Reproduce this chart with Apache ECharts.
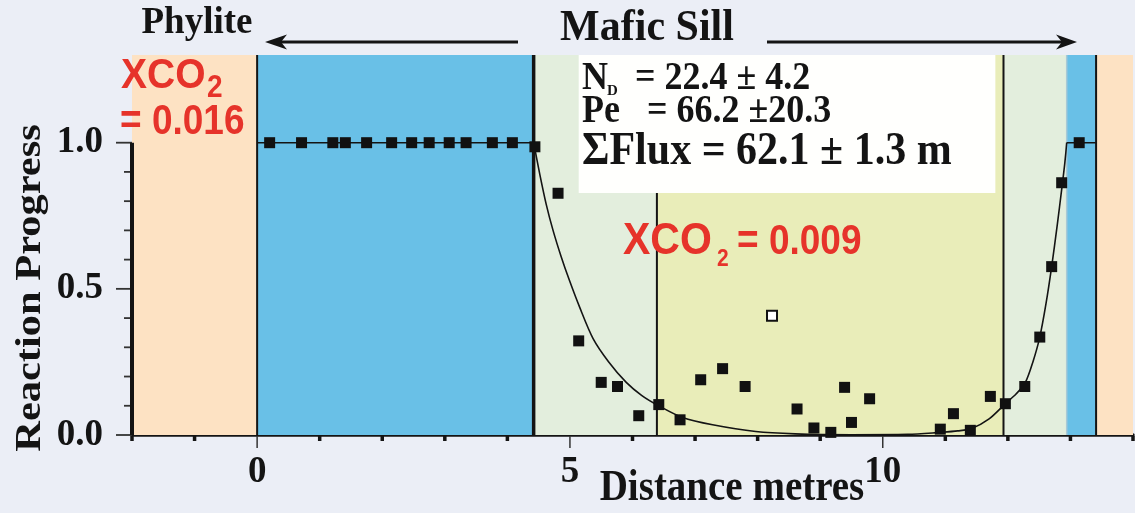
<!DOCTYPE html>
<html>
<head>
<meta charset="utf-8">
<script src="https://cdn.jsdelivr.net/npm/echarts@6/dist/echarts.min.js"></script>
<style>
html,body{margin:0;padding:0;background:#EBEEF6;}
#c{width:1135px;height:513px;}
</style>
</head>
<body>
<div id="c"></div>
<script>
// ---- data ----
const xTickLabels = [0, 5, 10];
const xMinorTicks = [-2, -1, 1, 2, 3, 4, 6, 7, 8, 9, 11, 12, 13, 14];
const yTickLabels = [0, 0.5, 1.0];
const yMinorTicks = [0.1, 0.2, 0.3, 0.4, 0.6, 0.7, 0.8, 0.9];

const zoneEdges = [-2, 0, 4.42, 6.39, 11.93, 12.94, 13.41, 14];
const zoneNames = ['Phylite', 'Unreacted sill', 'Reaction front', 'Reacted core', 'Reaction front', 'Unreacted sill', 'Phylite'];
const contactLines = [0, 4.42, 6.39, 11.93, 13.41];
const paramBoxX = [5.14, 11.80];
const paramBoxY = [0.828, 1.3];

const measured = [
  [0.20, 1.0], [0.71, 1.0], [1.21, 1.0], [1.41, 1.0], [1.75, 1.0], [2.15, 1.0], [2.47, 1.0],
  [2.75, 1.0], [3.07, 1.0], [3.34, 1.0], [3.76, 1.0], [4.08, 1.0], [4.44, 0.986],
  [4.81, 0.827], [5.14, 0.322], [5.50, 0.180], [5.76, 0.166], [6.10, 0.066], [6.42, 0.104],
  [6.76, 0.052], [7.09, 0.189], [7.44, 0.227], [7.80, 0.166], [8.63, 0.089], [8.90, 0.024],
  [9.17, 0.009], [9.39, 0.163], [9.50, 0.043], [9.79, 0.124], [10.92, 0.020], [11.13, 0.073],
  [11.40, 0.016], [11.72, 0.132], [11.96, 0.107], [12.27, 0.166], [12.51, 0.335], [12.70, 0.576],
  [12.86, 0.863], [13.14, 1.0]
];
const outlier = [[8.23, 0.408]];

const plateauLeft = [[0, 1.0], [4.42, 1.0]];
const fitCurve = [
  [4.42, 1.0], [4.52, 0.89], [4.62, 0.79], [4.73, 0.70], [4.86, 0.61], [4.99, 0.53], [5.15, 0.44],
  [5.37, 0.33], [5.62, 0.25], [5.90, 0.18], [6.15, 0.135], [6.42, 0.10], [6.80, 0.06], [7.28, 0.035],
  [7.97, 0.012], [8.6, 0.004], [9.5, 0.001], [10.4, 0.002], [10.92, 0.009], [11.2, 0.014],
  [11.42, 0.022], [11.70, 0.055], [11.96, 0.107], [12.13, 0.14], [12.28, 0.18], [12.40, 0.25],
  [12.51, 0.335], [12.61, 0.45], [12.70, 0.576], [12.79, 0.72], [12.86, 0.84], [12.91, 0.93], [12.94, 1.0]
];
const plateauRight = [[12.94, 1.0], [13.41, 1.0]];

// ---- rendering ----
const zoneColor = {
  'Phylite': '#FDE2C3',
  'Unreacted sill': '#69C0E7',
  'Reaction front': '#E3EEDD',
  'Reacted core': '#E9EDB9'
};
const SERIF = '"Liberation Serif", "Times New Roman", serif';
const SANS = '"Liberation Sans", Arial, sans-serif';
const RED = '#E6332A';
const INK = '#141414';
const X_MIN = -2, X_MAX = 14, Y_MIN = 0, Y_MAX = 1.3;

const chart = echarts.init(document.getElementById('c'), null, {renderer: 'canvas'});

const zoneData = zoneNames.map((n, i) => [zoneEdges[i], zoneEdges[i + 1], i]);
// tick records: [value, axis (0 = x, 1 = y), major flag]
const tickData = []
  .concat(xMinorTicks.map(v => [v, 0, 0]))
  .concat(xTickLabels.map(v => [v, 0, 1]))
  .concat(yMinorTicks.map(v => [v, 1, 0]))
  .concat(yTickLabels.map(v => [v, 1, 1]));

function txt(x, y, text, font, fill, extra) {
  return Object.assign({type: 'text', x: x, y: y, z: 10, silent: true,
    style: {text: text, font: font, fill: fill, align: 'left', verticalAlign: 'middle'}}, extra || {});
}

const option = {
  backgroundColor: '#EBEEF6',
  animation: false,
  grid: {left: 132, right: 2, top: 55, bottom: 78, containLabel: false},
  xAxis: {
    type: 'value', min: X_MIN, max: X_MAX, position: 'bottom',
    axisLine: {show: true, onZero: false, lineStyle: {color: INK, width: 3.5}},
    axisTick: {show: false},
    axisLabel: {show: true, customValues: xTickLabels, margin: 19, fontFamily: SERIF, fontWeight: 'bold', fontSize: 37, color: INK},
    splitLine: {show: false}
  },
  yAxis: {
    type: 'value', min: Y_MIN, max: Y_MAX, position: 'left',
    axisLine: {show: false},
    axisTick: {show: false},
    axisLabel: {show: true, customValues: yTickLabels, margin: 29, formatter: v => v.toFixed(1),
      fontFamily: SERIF, fontWeight: 'bold', fontSize: 37, color: INK},
    splitLine: {show: false}
  },
  series: [
    {
      type: 'custom', name: 'zones', z: 1, silent: true,
      data: zoneData,
      encode: {x: [0, 1]},
      renderItem: (params, api) => {
        const p0 = api.coord([api.value(0), Y_MAX]);
        const p1 = api.coord([api.value(1), Y_MIN]);
        const name = zoneNames[api.value(2)];
        return {type: 'rect', shape: {x: p0[0], y: p0[1], width: p1[0] - p0[0], height: p1[1] - p0[1]},
          style: {fill: zoneColor[name]}};
      }
    },
    {
      type: 'custom', name: 'contacts', z: 2, silent: true,
      data: contactLines.map(v => [v]),
      encode: {x: 0},
      renderItem: (params, api) => {
        const x = api.value(0);
        const a = api.coord([x, Y_MAX]);
        const b = api.coord([x, Y_MIN]);
        return {type: 'line', shape: {x1: a[0], y1: a[1], x2: b[0], y2: b[1]},
          style: {stroke: INK, lineWidth: x === 4.42 ? 3.5 : 2}};
      }
    },
    {
      type: 'custom', name: 'front edge', z: 2, silent: true,
      data: [[zoneEdges[5]]],
      encode: {x: 0},
      renderItem: (params, api) => {
        const a = api.coord([api.value(0), Y_MAX]);
        const b = api.coord([api.value(0), Y_MIN]);
        return {type: 'line', shape: {x1: a[0], y1: a[1], x2: b[0], y2: b[1]},
          style: {stroke: '#A9C9D6', lineWidth: 1.5}};
      }
    },
    {
      type: 'custom', name: 'parameter box', z: 3, silent: true,
      data: [[paramBoxX[0], paramBoxX[1], paramBoxY[0], paramBoxY[1]]],
      encode: {x: [0, 1], y: [2, 3]},
      renderItem: (params, api) => {
        const p0 = api.coord([api.value(0), api.value(3)]);
        const p1 = api.coord([api.value(1), api.value(2)]);
        return {type: 'rect', shape: {x: p0[0], y: p0[1], width: p1[0] - p0[0], height: p1[1] - p0[1]},
          style: {fill: '#FFFFFD'}};
      }
    },
    {
      type: 'custom', name: 'ticks', z: 4, silent: true, clip: false,
      data: tickData,
      encode: {x: 0},
      renderItem: (params, api) => {
        const v = api.value(0), isY = api.value(1) === 1, major = api.value(2) === 1;
        if (!isY) {
          const p = api.coord([v, Y_MIN]);
          return major
            ? {type: 'line', shape: {x1: p[0], y1: p[1] + 1, x2: p[0], y2: p[1] + 13}, style: {stroke: '#333', lineWidth: 1.5}}
            : {type: 'line', shape: {x1: p[0], y1: p[1] + 1, x2: p[0], y2: p[1] + 6}, style: {stroke: INK, lineWidth: 3.5}};
        }
        const p = api.coord([X_MIN, v]);
        const len = major ? 16 : 8;
        return {type: 'line', shape: {x1: p[0] - len, y1: p[1], x2: p[0], y2: p[1]}, style: {stroke: '#333', lineWidth: 1.8}};
      }
    },
    {
      type: 'line', name: 'y axis line', z: 4, silent: true, clip: false,
      data: [[X_MIN, 0], [X_MIN, 1]], symbol: 'none',
      lineStyle: {color: INK, width: 4}
    },
    {
      type: 'line', name: 'plateau left', z: 5, silent: true,
      data: plateauLeft, symbol: 'none', lineStyle: {color: INK, width: 1.6}
    },
    {
      type: 'line', name: 'fit', z: 5, silent: true,
      data: fitCurve, symbol: 'none', smooth: 0.3, lineStyle: {color: INK, width: 1.6}
    },
    {
      type: 'line', name: 'plateau right', z: 5, silent: true,
      data: plateauRight, symbol: 'none', lineStyle: {color: INK, width: 1.6}
    },
    {
      type: 'scatter', name: 'measured', z: 6,
      data: measured, symbol: 'rect', symbolSize: 11,
      itemStyle: {color: '#111', opacity: 1}
    },
    {
      type: 'scatter', name: 'outlier', z: 6,
      data: outlier, symbol: 'rect', symbolSize: 10,
      itemStyle: {color: '#fff', borderColor: '#111', borderWidth: 2, opacity: 1}
    }
  ],
  graphic: [
    // titles
    txt(197, 23, 'Phylite', '', INK, {scaleY: 1.05, style: {text: 'Phylite', font: 'bold 37px ' + SERIF, fill: INK, align: 'center', verticalAlign: 'middle'}}),
    txt(647, 29, 'Mafic Sill', '', INK, {scaleY: 1.05, style: {text: 'Mafic Sill', font: 'bold 42px ' + SERIF, fill: INK, align: 'center', verticalAlign: 'middle'}}),
    txt(732, 488, 'Distance metres', '', INK, {scaleY: 1.15, style: {text: 'Distance metres', font: 'bold 39px ' + SERIF, fill: INK, align: 'center', verticalAlign: 'middle'}}),
    txt(31, 288, 'Reaction Progress', '', INK, {rotation: Math.PI / 2, scaleX: 1.18, style: {text: 'Reaction Progress', font: 'bold 36px ' + SERIF, fill: INK, align: 'center', verticalAlign: 'middle'}}),
    // arrows
    {type: 'line', z: 10, silent: true, shape: {x1: 280, y1: 42, x2: 518, y2: 42}, style: {stroke: INK, lineWidth: 3}},
    {type: 'polygon', z: 10, silent: true, shape: {points: [[265, 42], [287, 34.5], [281, 42], [287, 49.5]]}, style: {fill: INK}},
    {type: 'line', z: 10, silent: true, shape: {x1: 767, y1: 42, x2: 1062, y2: 42}, style: {stroke: INK, lineWidth: 3}},
    {type: 'polygon', z: 10, silent: true, shape: {points: [[1077, 42], [1056, 34.5], [1062, 42], [1056, 49.5]]}, style: {fill: INK}},
    // parameter box text
    txt(582, 79, 'N', 'bold 36px ' + SERIF, INK, {scaleY: 1.1}),
    txt(607, 91, 'D', 'bold 15px ' + SERIF, INK),
    txt(635, 79, '= 22.4 ± 4.2', 'bold 36px ' + SERIF, INK, {scaleY: 1.1}),
    txt(582, 112, 'Pe', 'bold 36px ' + SERIF, INK, {scaleY: 1.1}),
    txt(647, 112, '= 66.2 ±20.3', 'bold 36px ' + SERIF, INK, {scaleY: 1.1}),
    txt(582, 152, 'ΣFlux = 62.1 ± 1.3 m', 'bold 42px ' + SERIF, INK, {scaleY: 1.08}),
    // red annotations
    txt(623, 242, 'XCO', 'bold 41px ' + SANS, RED, {scaleY: 1.1}),
    txt(717, 259.5, '2', 'bold 21px ' + SANS, RED, {scaleY: 1.1}),
    txt(737, 242, '= 0.009', 'bold 37px ' + SANS, RED, {scaleY: 1.15}),
    txt(121, 76, 'XCO', 'bold 39px ' + SANS, RED, {scaleY: 1.1}),
    txt(207, 89, '2', 'bold 28px ' + SANS, RED, {scaleY: 1.1}),
    txt(120, 122, '= 0.016', 'bold 37px ' + SANS, RED, {scaleY: 1.15})
  ]
};
chart.setOption(option);
</script>
</body>
</html>
